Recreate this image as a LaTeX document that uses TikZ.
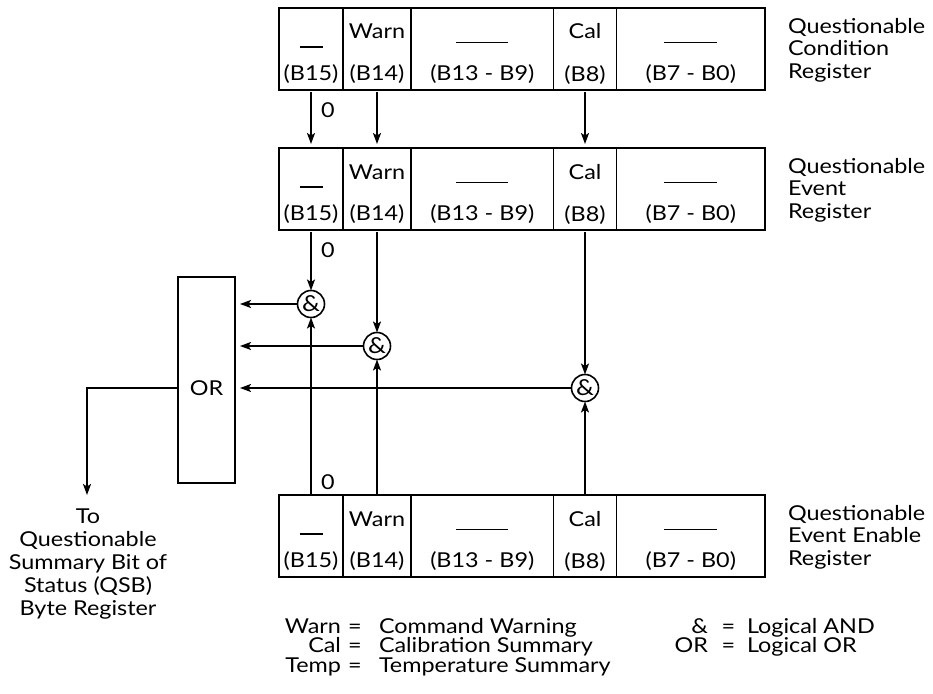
\documentclass[tikz,border=0pt]{standalone}
\usepackage{fontspec}
\setmainfont{Lato}[FakeStretch=1.14]
\usetikzlibrary{arrows.meta}
\newcommand\myregister[2]{%
  \node[cell, minimum width=64pt]    (#1a) at (311,#2+41) {};
  \node[cell, minimum width=68pt]    (#1b) at (377,#2+41) {};
  \node[cell, minimum width=142.5pt] (#1c) at (482.25,#2+41) {};
  \node[cell, minimum width=63pt]    (#1d) at (585,#2+41) {};
  \node[cell, minimum width=148.5pt] (#1e) at (690.75,#2+41) {};
  \node[txt] (#1at) at (311,#2+31) {\rule[-8.6pt]{23pt}{1.4pt}};
  \node[txt] (#1ab) at (311,#2+72) {(B15)};
  \node[txt] (#1bt) at (377,#2+31) {Warn};
  \node[txt] (#1bb) at (377,#2+72) {(B14)};
  \node[txt] (#1ct) at (482.25,#2+31) {\rule[-4.3pt]{52pt}{1.4pt}};
  \node[txt] (#1cb) at (482.25,#2+72) {(B13 - B9)};
  \node[txt] (#1dt) at (585,#2+31) {Cal};
  \node[txt] (#1db) at (585,#2+73.5) {(B8)};
  \node[txt] (#1et) at (690.75,#2+31) {\rule[-4.3pt]{53pt}{1.4pt}};
  \node[txt] (#1eb) at (690.75,#2+72) {(B7 - B0)};
}
\begin{document}
\begin{tikzpicture}[x=1pt,y=-1pt,
  every node/.style={font=\fontsize{20.5}{22.5}\selectfont, inner sep=0pt, outer sep=0pt},
  cell/.style={draw, line width=1.7pt, minimum height=82pt},
  txt/.style={anchor=base},
  conn/.style={line width=1.8pt, -{Stealth[length=11pt,width=8pt,inset=2.5pt]}},
  andgate/.style={circle, draw, line width=1.6pt, minimum size=27pt, font=\fontsize{22}{24}\selectfont},
  orbox/.style={draw, line width=1.7pt, minimum width=57pt, minimum height=206pt},
  sidelabel/.style={anchor=base west, align=left},
  legend/.style={font=\fontsize{20.5}{19.5}\selectfont}]
\useasboundingbox (0,0) rectangle (933,693);

% registers
\myregister{q}{8}
\myregister{m}{148}
\myregister{b}{495}

% the base anchor of a multi-line node is the last line's baseline
\node[sidelabel] (lq) at (788,78) {Questionable\\Condition\\Register};
\node[sidelabel] (lm) at (788,218) {Questionable\\Event\\Register};
\node[sidelabel] (lb) at (788,565) {Questionable\\Event Enable\\Register};

% condition -> event
\draw[conn, shorten <=2pt, shorten >=4pt] (qa.south) -- (ma.north);
\draw[conn, shorten <=2pt, shorten >=4pt] (qb.south) -- (mb.north);
\draw[conn, shorten <=2pt, shorten >=4pt] (qd.south) -- (md.north);
\node (z1) at (328,110.5) {0};

% AND gates
\node[andgate] (and1) at (311,304) {\&};
\node[andgate] (and2) at (377,346) {\&};
\node[andgate] (and3) at (585,388) {\&};
\node (z2) at (328,250) {0};
\node (z3) at (328,482) {0};

\draw[conn, shorten <=2pt] (ma.south) -- (and1.north);
\draw[conn, shorten <=2pt] (mb.south) -- (and2.north);
\draw[conn, shorten <=2pt] (md.south) -- (and3.north);
\draw[conn] (ba.north) -- (and1.south);
\draw[conn] (bb.north) -- (and2.south);
\draw[conn] (bd.north) -- (and3.south);

% OR box
\node[orbox] (or) at (206.5,380) {};
\node (ortext) at (206.5,388) {OR};
\draw[conn, shorten >=5pt] (and1.west) -- (or.east |- and1.west);
\draw[conn, shorten >=5pt] (and2.west) -- (or.east |- and2.west);
\draw[conn, shorten >=5pt] (and3.west) -- (or.east |- and3.west);

% output
\coordinate (qsbend) at (87,495);
\draw[conn] (or.west |- and3.west) -| (qsbend);
\node[anchor=base, align=center, font=\fontsize{20.5}{23}\selectfont] (qsb) at (88,615)
  {To\\Questionable\\Summary Bit of\\Status (QSB)\\Byte Register};

% legend
\node[legend, anchor=base east, align=right] (lk1) at (341,672) {Warn\\Cal\\Temp};
\node[legend, anchor=base, align=center] (le1) at (355,672) {=\\=\\=};
\node[legend, anchor=base west, align=left] (lv1) at (379,672) {Command Warning\\Calibration Summary\\Temperature Summary};
\node[legend, anchor=base east, align=right] (lk2) at (708,652.5) {\&\\OR};
\node[legend, anchor=base, align=center] (le2) at (728.5,652.5) {=\\=};
\node[legend, anchor=base west, align=left] (lv2) at (747,652.5) {Logical AND\\Logical OR};
\end{tikzpicture}
\end{document}
